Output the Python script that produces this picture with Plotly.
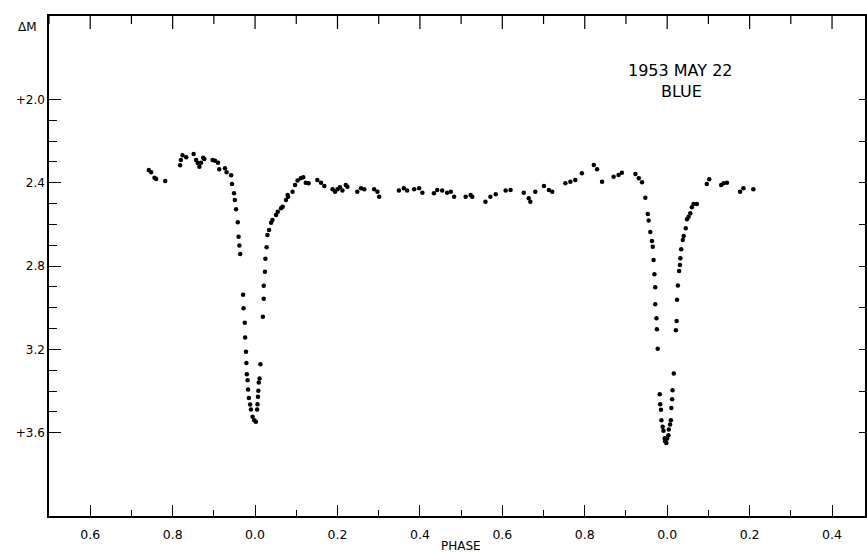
import plotly.graph_objects as go

# Continuous phase axis: 1.0 and 2.0 correspond to phase "0.0"
phase_max1 = [0.742, 0.748, 0.756, 0.760, 0.782, 0.818, 0.820, 0.824, 0.833, 0.851,
              0.857, 0.861, 0.865, 0.869, 0.874, 0.877, 0.897, 0.903, 0.910, 0.913,
              0.927, 0.931, 0.942, 0.944, 0.949, 0.951, 0.954, 0.958, 0.960, 0.962, 0.964]
dm_max1 = [2.339, 2.350, 2.376, 2.382, 2.392, 2.316, 2.291, 2.268, 2.278, 2.263,
           2.291, 2.306, 2.323, 2.304, 2.280, 2.287, 2.291, 2.295, 2.304, 2.335,
           2.331, 2.350, 2.364, 2.406, 2.451, 2.483, 2.528, 2.590, 2.659, 2.702, 2.742]

phase_min1 = [0.971, 0.972, 0.975, 0.976, 0.978, 0.979, 0.980, 0.982, 0.983, 0.985,
              0.988, 0.990, 0.994, 0.998, 1.002, 1.005, 1.006, 1.007, 1.008, 1.009,
              1.011, 1.013, 1.019, 1.021, 1.021, 1.024, 1.025, 1.028, 1.030, 1.034,
              1.039, 1.042, 1.051, 1.055, 1.063, 1.067, 1.075, 1.080]
dm_min1 = [2.938, 3.003, 3.072, 3.143, 3.212, 3.265, 3.319, 3.348, 3.393, 3.434,
           3.465, 3.489, 3.524, 3.540, 3.548, 3.489, 3.463, 3.428, 3.399, 3.359,
           3.340, 3.272, 3.044, 2.957, 2.895, 2.827, 2.765, 2.710, 2.651, 2.627,
           2.592, 2.579, 2.555, 2.539, 2.523, 2.515, 2.483, 2.467]

phase_mid = [1.079, 1.091, 1.097, 1.103, 1.111, 1.117, 1.123, 1.130, 1.151, 1.160,
             1.168, 1.188, 1.194, 1.200, 1.206, 1.212, 1.220, 1.224, 1.248, 1.257,
             1.265, 1.289, 1.297, 1.301, 1.349, 1.361, 1.369, 1.386, 1.398, 1.406,
             1.434, 1.442, 1.454, 1.466, 1.475, 1.483, 1.511, 1.523, 1.527, 1.559,
             1.571, 1.584, 1.608, 1.620, 1.652, 1.664, 1.668, 1.680, 1.701, 1.713,
             1.721, 1.753, 1.765, 1.777, 1.793, 1.822, 1.830, 1.842, 1.870, 1.882,
             1.890, 1.923, 1.931, 1.939, 1.947]
dm_mid = [2.459, 2.443, 2.411, 2.390, 2.379, 2.374, 2.400, 2.403, 2.387, 2.400,
          2.416, 2.431, 2.443, 2.431, 2.422, 2.438, 2.411, 2.419, 2.443, 2.427,
          2.431, 2.431, 2.443, 2.467, 2.438, 2.427, 2.438, 2.431, 2.427, 2.448,
          2.451, 2.435, 2.438, 2.448, 2.443, 2.467, 2.467, 2.459, 2.467, 2.491,
          2.467, 2.455, 2.438, 2.435, 2.448, 2.475, 2.491, 2.443, 2.416, 2.435,
          2.443, 2.403, 2.395, 2.387, 2.355, 2.315, 2.335, 2.395, 2.371, 2.363,
          2.352, 2.358, 2.379, 2.398, 2.472]

phase_min2 = [1.953, 1.955, 1.959, 1.963, 1.965, 1.967, 1.969, 1.971, 1.971, 1.974,
              1.975, 1.977, 1.982, 1.983, 1.985, 1.986, 1.989, 1.991, 1.994, 1.995,
              1.998, 2.000, 2.003, 2.004, 2.007, 2.009, 2.010, 2.012, 2.013, 2.016,
              2.021, 2.023, 2.024, 2.026, 2.029, 2.031, 2.032, 2.034, 2.038, 2.040,
              2.045, 2.048, 2.052, 2.056, 2.060, 2.064, 2.072]
dm_min2 = [2.550, 2.582, 2.637, 2.680, 2.707, 2.771, 2.840, 2.902, 2.984, 3.051,
           3.103, 3.197, 3.415, 3.463, 3.490, 3.540, 3.571, 3.591, 3.627, 3.641,
           3.649, 3.628, 3.612, 3.585, 3.561, 3.540, 3.481, 3.439, 3.396, 3.316,
           3.108, 3.064, 2.962, 2.893, 2.824, 2.795, 2.763, 2.720, 2.675, 2.656,
           2.619, 2.576, 2.563, 2.547, 2.518, 2.502, 2.502]

phase_max2 = [2.096, 2.102, 2.131, 2.137, 2.145, 2.177, 2.185, 2.209]
dm_max2 = [2.406, 2.383, 2.411, 2.403, 2.400, 2.443, 2.427, 2.431]

x_tickvals = [0.6, 0.8, 1.0, 1.2, 1.4, 1.6, 1.8, 2.0, 2.2, 2.4]
x_ticktext = ["0.6", "0.8", "0.0", "0.2", "0.4", "0.6", "0.8", "0.0", "0.2", "0.4"]
x_minorvals = [0.5, 0.7, 0.9, 1.1, 1.3, 1.5, 1.7, 1.9, 2.1, 2.3]
y_tickvals = [2.0, 2.4, 2.8, 3.2, 3.6]
y_ticktext = ["+2.0", "2.4", "2.8", "3.2", "+3.6"]
y_minorvals = [2.1, 2.2, 2.3, 2.5, 2.6, 2.7, 2.9, 3.0, 3.1, 3.3, 3.4, 3.5]
y_rightvals = [2.0, 2.2, 2.4, 2.6, 2.8, 3.0, 3.2, 3.4, 3.6]

phase = phase_max1 + phase_min1 + phase_mid + phase_min2 + phase_max2
dm = dm_max1 + dm_min1 + dm_mid + dm_min2 + dm_max2

FONT = "DejaVu Sans"
XR = [0.5, 2.48]
YR = [4.0, 1.6]

fig = go.Figure()
fig.add_trace(go.Scatter(x=phase, y=dm, mode="markers",
                         marker=dict(color="black", size=4.5, line=dict(width=0)),
                         showlegend=False, hoverinfo="skip"))
# transparent copy so that the right overlay tick axis is drawn
fig.add_trace(go.Scatter(x=phase, y=dm, yaxis="y2", mode="markers",
                         marker=dict(color="rgba(0,0,0,0)", size=1),
                         showlegend=False, hoverinfo="skip"))

# top-border tick marks, placed through the x scale (tick decorations only)
top_ticks = []
for v in x_tickvals:
    top_ticks.append(dict(type="line", xref="x", yref="paper", x0=v, x1=v,
                          y0=1, y1=1 - 0.026, line=dict(color="black", width=1.2),
                          layer="above"))
for v in x_minorvals:
    top_ticks.append(dict(type="line", xref="x", yref="paper", x0=v, x1=v,
                          y0=1, y1=1 - 0.016, line=dict(color="black", width=1.2),
                          layer="above"))

fig.update_layout(
    width=867, height=552,
    margin=dict(l=49, r=0, t=16, b=36),
    paper_bgcolor="white", plot_bgcolor="white",
    font=dict(family=FONT, color="black", size=12),
    xaxis=dict(range=XR, showgrid=False, zeroline=False,
               showline=True, linecolor="black", linewidth=1.5, mirror=True,
               tickmode="array", tickvals=x_tickvals, ticktext=x_ticktext,
               ticks="inside", ticklen=11, tickwidth=1.2, tickcolor="black",
               ticklabelstandoff=6,
               tickfont=dict(size=12.5, family=FONT),
               minor=dict(tickmode="array", tickvals=x_minorvals, ticks="inside",
                          ticklen=6, tickwidth=1.2, tickcolor="black", showgrid=False)),
    yaxis=dict(range=YR, showgrid=False, zeroline=False,
               showline=True, linecolor="black", linewidth=1.5, mirror=True,
               tickmode="array", tickvals=y_tickvals, ticktext=y_ticktext,
               ticks="inside", ticklen=12, tickwidth=1.2, tickcolor="black",
               tickfont=dict(size=12, family=FONT),
               minor=dict(tickmode="array", tickvals=y_minorvals, ticks="inside",
                          ticklen=8, tickwidth=1.2, tickcolor="black", showgrid=False)),
    yaxis2=dict(range=YR, overlaying="y", side="right", showgrid=False,
                zeroline=False, showline=False, tickmode="array", tickvals=y_rightvals,
                ticks="inside", ticklen=6, tickwidth=1.2, tickcolor="black",
                showticklabels=False),
    shapes=top_ticks,
    annotations=[
        dict(text="ΔM", xref="paper", yref="paper", x=-0.026, y=0.978,
             showarrow=False, font=dict(size=12, family=FONT), xanchor="center", yanchor="middle"),
        dict(text="PHASE", xref="paper", yref="paper", x=0.505, y=-0.06,
             showarrow=False, font=dict(size=12, family=FONT), xanchor="center", yanchor="middle"),
        dict(text="1953 MAY 22", xref="paper", yref="paper", x=0.774, y=0.892,
             showarrow=False, font=dict(size=16, family=FONT), xanchor="center", yanchor="middle"),
        dict(text="BLUE", xref="paper", yref="paper", x=0.775, y=0.85,
             showarrow=False, font=dict(size=16, family=FONT), xanchor="center", yanchor="middle"),
    ],
)

fig.write_html("out.html")
